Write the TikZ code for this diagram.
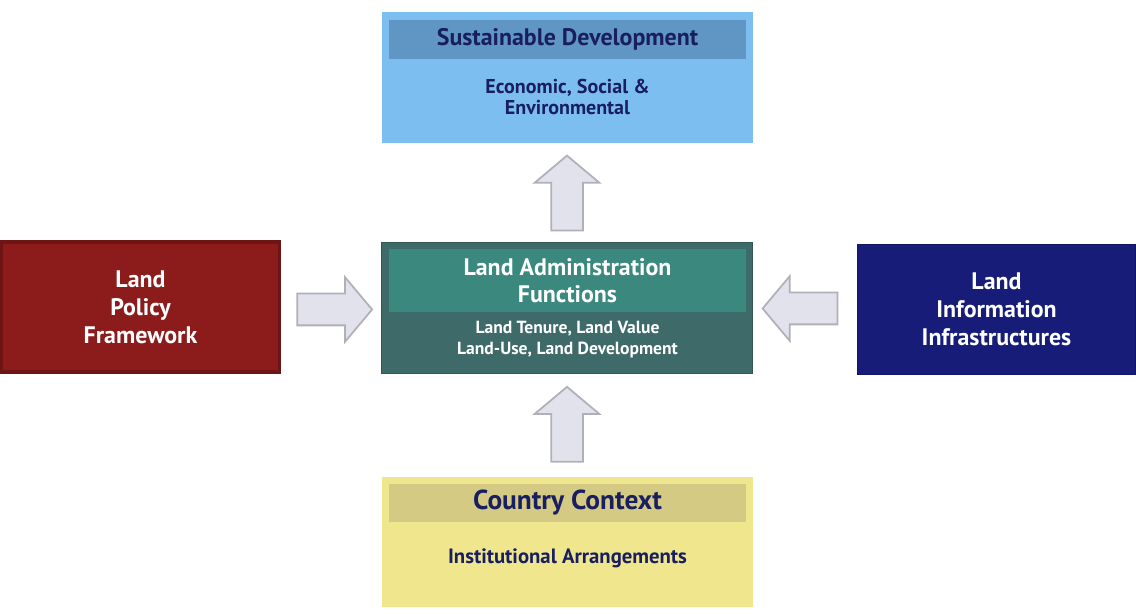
\documentclass[tikz,border=0pt]{standalone}
\usepackage{fontspec}
\setmainfont{PT Sans}
\usetikzlibrary{shapes.arrows,calc}
\definecolor{sdblue}{RGB}{125,190,240}
\definecolor{sdband}{RGB}{96,150,196}
\definecolor{inktext}{RGB}{24,30,96}
\definecolor{lafouter}{RGB}{62,106,106}
\definecolor{lafband}{RGB}{58,136,126}
\definecolor{lpfred}{RGB}{140,28,28}
\definecolor{lpfedge}{RGB}{110,20,20}
\definecolor{liinavy}{RGB}{22,28,120}
\definecolor{ccyellow}{RGB}{240,230,142}
\definecolor{ccband}{RGB}{212,202,132}
\definecolor{arrowfill}{RGB}{226,226,236}
\definecolor{arrowedge}{RGB}{176,176,184}

\begin{document}
\begin{tikzpicture}[x=0.02cm, y=-0.02cm,
  box/.style={minimum width=7.42cm, minimum height=2.62cm, inner sep=0pt},
  band/.style={minimum width=7.14cm, inner sep=0pt},
  side/.style={minimum width=5.56cm, minimum height=2.6cm, inner sep=0pt, align=center, text=white, font=\bfseries\fontsize{13.6}{16}\selectfont},
  head/.style={font=\bfseries\fontsize{13.6}{15.5}\selectfont, align=center},
  sub/.style={font=\bfseries\fontsize{10}{12}\selectfont, align=center},
  fatarrow/.style={single arrow, draw=arrowedge, fill=arrowfill, line width=1pt, minimum height=1.5cm, inner xsep=0pt, inner ysep=0.3cm, single arrow head extend=0.33cm, single arrow tip angle=100}]
\useasboundingbox (0,0) rectangle (1136,614);
\node[box, fill=sdblue] (sd) at (567.5,77.5) {};
\node[band, fill=sdband, minimum height=0.78cm, head, text=inktext] (sdhead) at (567.5,39.5) {Sustainable Development};
\node[sub, text=inktext, font=\bfseries\fontsize{11.4}{12.5}\selectfont] (sdsub) at (567.5,97) {Economic, Social \&\\Environmental};
\node[box, fill=lafouter, draw=lafouter!80!black] (laf) at (566.5,308) {};
\node[band, fill=lafband, minimum height=1.26cm, head, text=white] (lafhead) at (567.5,280.5) {Land Administration\\Functions};
\node[sub, text=white] (lafsub) at (567.5,340) {Land Tenure, Land Value\\Land-Use, Land Development};
\node[box, fill=ccyellow] (cc) at (567.5,542) {};
\node[band, fill=ccband, minimum height=0.76cm, head, text=inktext, font=\bfseries\fontsize{15.6}{17}\selectfont] (cchead) at (567.5,503) {Country Context};
\node[sub, text=inktext, font=\bfseries\fontsize{11.8}{13}\selectfont] (ccsub) at (567.5,558) {Institutional Arrangements};
\node[side, fill=lpfred, draw=lpfedge, line width=2pt] (lpf) at (140.5,307) {Land\\Policy\\Framework};
\node[side, fill=liinavy, draw=liinavy!80!black] (lii) at (996.5,309) {Land\\Information\\Infrastructures};
\node[fatarrow, rotate=90] (up1) at ($(laf.north)!0.5!(sd.south)+(0,7)$) {};
\node[fatarrow, rotate=90] (up2) at ($(cc.north)!0.5!(laf.south)+(0,6)$) {};
\node[fatarrow] (right1) at ($(lpf.east)!0.5!(laf.west)+(-3,2)$) {};
\node[fatarrow, rotate=180] (left1) at ($(lii.west)!0.5!(laf.east)+(2,0)$) {};
\end{tikzpicture}
\end{document}
